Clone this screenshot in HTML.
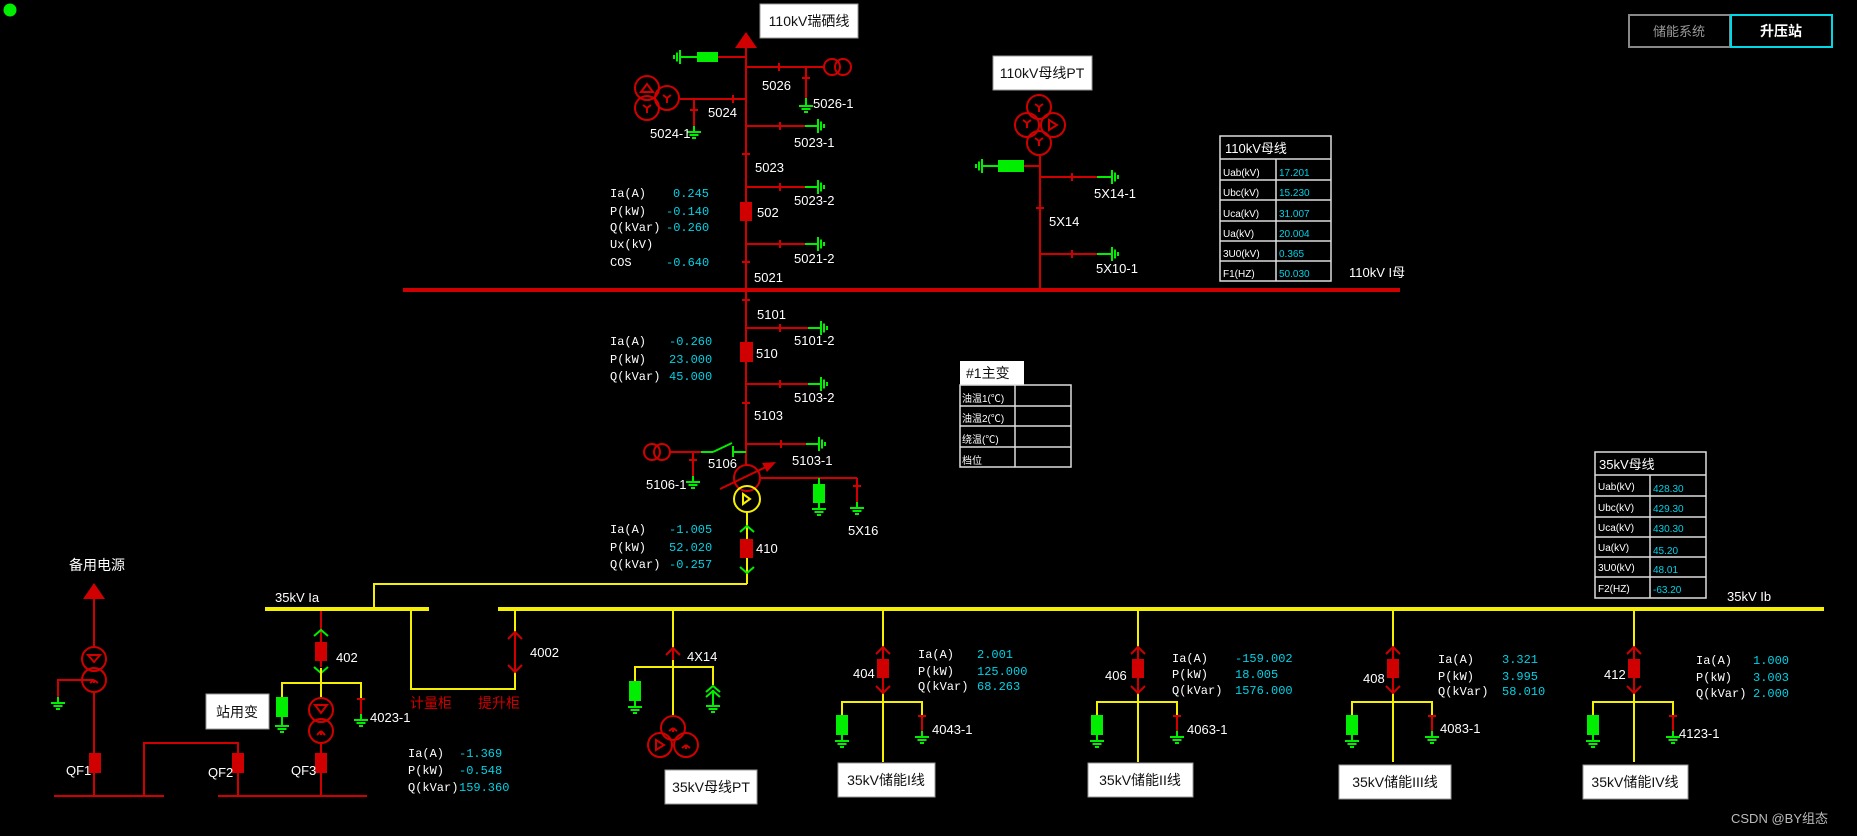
<!DOCTYPE html>
<html><head><meta charset="utf-8">
<style>
html,body{margin:0;padding:0;background:#000;overflow:hidden}
svg{display:block}
text{font-family:"Liberation Sans","Noto Sans CJK SC",sans-serif;font-size:13px;fill:#fff}
.c{fill:#00d2e6}
text.m{font-family:"Liberation Mono","Noto Sans CJK SC",monospace;font-size:12px}
.t{font-size:10px}
.b{fill:#111;font-size:14px}
.r{stroke:#d00000;stroke-width:2;fill:none}
.y{stroke:#f5f000;stroke-width:2;fill:none}
.g{stroke:#00ee00;stroke-width:2;fill:none}
</style></head><body>
<svg width="1857" height="836" xmlns="http://www.w3.org/2000/svg">
<defs>
<g id="gnd"><path d="M0,0v6M-7,6h14M-4.5,9h9M-2,12h4" stroke="#00ee00" stroke-width="2" fill="none"/></g>
<g id="tk"><path d="M-4,0h8" stroke="#d00000" stroke-width="2"/></g>
<g id="tkv"><path d="M0,-4v8" stroke="#d00000" stroke-width="2"/></g>
</defs>
<rect width="1857" height="836" fill="#000"/>
<circle cx="10" cy="10" r="6.5" fill="#00ee00"/>

<rect x="1629" y="15" width="101" height="32" fill="none" stroke="#888" stroke-width="2"/>
<text x="1679" y="36" text-anchor="middle" style="fill:#999;font-size:13px">储能系统</text>
<rect x="1731" y="15" width="101" height="32" fill="none" stroke="#00d8e8" stroke-width="2"/>
<text x="1781" y="36" text-anchor="middle" style="font-size:14px;font-weight:bold">升压站</text>

<rect x="760" y="4" width="98" height="34" fill="#fff" stroke="#999"/>
<text x="809" y="26" text-anchor="middle" class="b">110kV瑞硒线</text>
<polygon points="746,32 735,48 757,48" fill="#d00000"/>
<line x1="746" y1="48" x2="746" y2="466" class="r"/>
<line x1="746" y1="57" x2="718" y2="57" class="r"/>
<rect x="697" y="52" width="21" height="10" fill="#00ee00"/>
<line x1="697" y1="57" x2="686" y2="57" class="g"/>
<use href="#gnd" transform="translate(686,57) rotate(90)"/>
<line x1="746" y1="67" x2="824" y2="67" class="r"/>
<use href="#tkv" x="779" y="67"/>
<circle cx="832" cy="67" r="8" class="r"/><circle cx="843" cy="67" r="8" class="r"/>
<line x1="806" y1="67" x2="806" y2="98" class="r"/><use href="#tk" x="806" y="78"/>
<line x1="806" y1="98" x2="806" y2="102" class="g"/><use href="#gnd" x="806" y="100"/>
<text x="762" y="90">5026</text><text x="813" y="108">5026-1</text>
<line x1="746" y1="99" x2="680" y2="99" class="r"/>
<use href="#tkv" x="733" y="99"/>
<circle cx="647" cy="88" r="12" class="r"/><circle cx="667" cy="98" r="12" class="r"/><circle cx="647" cy="108" r="12" class="r"/>
<path d="M641,92l6,-8l6,8z" class="r" stroke-width="1.2"/>
<path d="M667,98v5M667,98l-4,-3M667,98l4,-3M647,108v5M647,108l-4,-3M647,108l4,-3" class="r" stroke-width="1.2"/>
<line x1="694" y1="99" x2="694" y2="126" class="r"/><use href="#tk" x="694" y="110"/>
<use href="#gnd" x="694" y="126"/>
<text x="708" y="117">5024</text><text x="650" y="138">5024-1</text>
<line x1="746" y1="126" x2="805" y2="126" class="r"/><use href="#tkv" x="780" y="126"/><line x1="805" y1="126" x2="812" y2="126" class="g"/><use href="#gnd" transform="translate(812,126) rotate(-90)"/>
<line x1="746" y1="187" x2="805" y2="187" class="r"/><use href="#tkv" x="780" y="187"/><line x1="805" y1="187" x2="812" y2="187" class="g"/><use href="#gnd" transform="translate(812,187) rotate(-90)"/>
<line x1="746" y1="244" x2="805" y2="244" class="r"/><use href="#tkv" x="780" y="244"/><line x1="805" y1="244" x2="812" y2="244" class="g"/><use href="#gnd" transform="translate(812,244) rotate(-90)"/>
<text x="794" y="147">5023-1</text><text x="794" y="205">5023-2</text><text x="794" y="263">5021-2</text>
<use href="#tk" x="746" y="154"/><text x="755" y="172">5023</text>
<rect x="740" y="202" width="12" height="19" fill="#d00000"/><text x="757" y="217">502</text>
<use href="#tk" x="746" y="262"/><text x="754" y="282">5021</text>
<text x="610" y="197" class="m">Ia(A)</text><text x="673" y="197" class="m c">0.245</text>
<text x="610" y="215" class="m">P(kW)</text><text x="666" y="215" class="m c">-0.140</text>
<text x="610" y="231" class="m">Q(kVar)</text><text x="666" y="231" class="m c">-0.260</text>
<text x="610" y="248" class="m">Ux(kV)</text>
<text x="610" y="266" class="m">COS</text><text x="666" y="266" class="m c">-0.640</text>
<rect x="403" y="288" width="997" height="4" fill="#d00000"/>
<text x="1349" y="277">110kV I母</text>

<rect x="993" y="56" width="99" height="34" fill="#fff" stroke="#999"/>
<text x="1042" y="78" text-anchor="middle" class="b">110kV母线PT</text>
<circle cx="1039" cy="107" r="12" class="r"/><circle cx="1027" cy="125" r="12" class="r"/><circle cx="1053" cy="125" r="12" class="r"/><circle cx="1039" cy="143" r="12" class="r"/>
<path d="M1039,107v5M1039,107l-4,-3M1039,107l4,-3M1027,123v5M1027,123l-4,-3M1027,123l4,-3M1039,141v5M1039,141l-4,-3M1039,141l4,-3M1049,120l8,5l-8,5z" class="r" stroke-width="1.2"/>
<line x1="1040" y1="155" x2="1040" y2="290" class="r"/>
<line x1="1040" y1="166" x2="1024" y2="166" class="r"/>
<rect x="998" y="160" width="26" height="12" fill="#00ee00"/>
<line x1="998" y1="166" x2="988" y2="166" class="g"/><use href="#gnd" transform="translate(988,166) rotate(90)"/>
<line x1="1040" y1="177" x2="1097" y2="177" class="r"/><use href="#tkv" x="1072" y="177"/><line x1="1097" y1="177" x2="1106" y2="177" class="g"/><use href="#gnd" transform="translate(1106,177) rotate(-90)"/>
<use href="#tk" x="1040" y="208"/>
<line x1="1040" y1="254" x2="1097" y2="254" class="r"/><use href="#tkv" x="1072" y="254"/><line x1="1097" y1="254" x2="1106" y2="254" class="g"/><use href="#gnd" transform="translate(1106,254) rotate(-90)"/>
<text x="1094" y="198">5X14-1</text><text x="1049" y="226">5X14</text><text x="1096" y="273">5X10-1</text>

<g stroke="#ddd" stroke-width="1.5" fill="none">
<rect x="1220" y="136" width="111" height="145"/>
<path d="M1220,159h111M1220,180h111M1220,200h111M1220,221h111M1220,241h111M1220,261h111M1276,159v122"/>
</g>
<text x="1225" y="153">110kV母线</text>
<text x="1223" y="176" class="t">Uab(kV)</text><text x="1279" y="176" class="t c">17.201</text>
<text x="1223" y="196" class="t">Ubc(kV)</text><text x="1279" y="196" class="t c">15.230</text>
<text x="1223" y="217" class="t">Uca(kV)</text><text x="1279" y="217" class="t c">31.007</text>
<text x="1223" y="237" class="t">Ua(kV)</text><text x="1279" y="237" class="t c">20.004</text>
<text x="1223" y="257" class="t">3U0(kV)</text><text x="1279" y="257" class="t c">0.365</text>
<text x="1223" y="277" class="t">F1(HZ)</text><text x="1279" y="277" class="t c">50.030</text>

<use href="#tk" x="746" y="300"/><text x="757" y="319">5101</text>
<line x1="746" y1="328" x2="808" y2="328" class="r"/><use href="#tkv" x="780" y="328"/><line x1="808" y1="328" x2="815" y2="328" class="g"/><use href="#gnd" transform="translate(815,328) rotate(-90)"/>
<text x="794" y="345">5101-2</text>
<rect x="740" y="342" width="13" height="20" fill="#d00000"/><text x="756" y="358">510</text>
<text x="610" y="345" class="m">Ia(A)</text><text x="669" y="345" class="m c">-0.260</text>
<text x="610" y="363" class="m">P(kW)</text><text x="669" y="363" class="m c">23.000</text>
<text x="610" y="380" class="m">Q(kVar)</text><text x="669" y="380" class="m c">45.000</text>
<line x1="746" y1="384" x2="808" y2="384" class="r"/><use href="#tkv" x="780" y="384"/><line x1="808" y1="384" x2="815" y2="384" class="g"/><use href="#gnd" transform="translate(815,384) rotate(-90)"/>
<text x="794" y="402">5103-2</text>
<use href="#tk" x="746" y="403"/><text x="754" y="420">5103</text>
<line x1="746" y1="444" x2="806" y2="444" class="r"/><use href="#tkv" x="781" y="444"/><line x1="806" y1="444" x2="813" y2="444" class="g"/><use href="#gnd" transform="translate(813,444) rotate(-90)"/>
<text x="792" y="465">5103-1</text>
<circle cx="652" cy="452" r="8" class="r"/><circle cx="662" cy="452" r="8" class="r"/>
<line x1="670" y1="452" x2="701" y2="452" class="r"/>
<line x1="701" y1="452" x2="713" y2="452" class="g"/><line x1="713" y1="452" x2="732" y2="443" class="g"/>
<line x1="733" y1="446" x2="733" y2="457" class="g"/><line x1="733" y1="452" x2="746" y2="452" class="g"/>
<line x1="693" y1="452" x2="693" y2="478" class="r"/><use href="#tk" x="693" y="460"/><use href="#gnd" x="693" y="476"/>
<text x="708" y="468">5106</text><text x="646" y="489">5106-1</text>
<circle cx="747" cy="478" r="13" class="r"/>
<circle cx="747" cy="499" r="13" class="y"/>
<path d="M743,494l7,5l-7,5z" class="y" stroke-width="1.5"/>
<line x1="720" y1="489" x2="770" y2="465" class="r"/>
<polygon points="776,462 762,463 767,472" fill="#d00000"/>
<line x1="760" y1="478" x2="857" y2="478" class="r"/>
<line x1="819" y1="478" x2="819" y2="484" class="g"/>
<rect x="813" y="484" width="12" height="19" fill="#00ee00"/>
<use href="#gnd" x="819" y="503"/>
<line x1="857" y1="478" x2="857" y2="502" class="r"/><use href="#tk" x="857" y="486"/>
<use href="#gnd" x="857" y="502"/>
<text x="848" y="535">5X16</text>
<line x1="747" y1="512" x2="747" y2="584" class="y"/>
<path d="M740,532l7,-6l7,6" class="g"/>
<rect x="740" y="539" width="13" height="19" fill="#d00000"/>
<path d="M740,567l7,6l7,-6" class="g"/>
<text x="756" y="553">410</text>
<text x="610" y="533" class="m">Ia(A)</text><text x="669" y="533" class="m c">-1.005</text>
<text x="610" y="551" class="m">P(kW)</text><text x="669" y="551" class="m c">52.020</text>
<text x="610" y="568" class="m">Q(kVar)</text><text x="669" y="568" class="m c">-0.257</text>
<polyline points="747,584 374,584 374,609" class="y"/>

<rect x="265" y="607" width="164" height="4" fill="#f5f000"/>
<text x="275" y="602">35kV Ia</text>
<rect x="498" y="607" width="1326" height="4" fill="#f5f000"/>
<text x="1727" y="601">35kV Ib</text>
<polyline points="411,611 411,689 515,689 515,611" class="y"/>
<line x1="515" y1="632" x2="515" y2="672" class="r"/>
<path d="M508,639l7,-7l7,7M508,665l7,7l7,-7" class="r"/>
<text x="530" y="657">4002</text>
<text x="410" y="708" style="fill:#d00000;font-size:14px">计量柜</text>
<text x="478" y="708" style="fill:#d00000;font-size:14px">提升柜</text>

<line x1="321" y1="611" x2="321" y2="667" class="r"/>
<path d="M314,636l7,-6l7,6" class="g"/>
<rect x="315" y="642" width="12" height="19" fill="#d00000"/>
<path d="M314,667l7,6l7,-6" class="g"/>
<text x="336" y="662">402</text>
<line x1="321" y1="668" x2="321" y2="698" class="y"/>
<polyline points="282,697 282,683 361,683 361,699" class="y"/>
<rect x="276" y="697" width="12" height="20" fill="#00ee00"/>
<line x1="282" y1="717" x2="282" y2="722" class="g"/><use href="#gnd" x="282" y="720"/>
<circle cx="321" cy="710" r="12" class="r"/><circle cx="321" cy="731" r="12" class="r"/>
<path d="M315,705l6,8l6,-8z M321,731v4M321,731l-4,4M321,731l4,4" class="r" stroke-width="1.2"/>
<line x1="361" y1="699" x2="361" y2="716" class="r"/><use href="#tk" x="361" y="699"/><use href="#gnd" x="361" y="714"/>
<text x="370" y="722">4023-1</text>
<line x1="321" y1="743" x2="321" y2="796" class="r"/>
<rect x="315" y="753" width="12" height="20" fill="#d00000"/><text x="291" y="775">QF3</text>
<rect x="206" y="694" width="63" height="35" fill="#fff" stroke="#999"/>
<text x="237" y="717" text-anchor="middle" class="b">站用变</text>
<line x1="218" y1="796" x2="367" y2="796" class="r"/>
<polyline points="144,796 144,743 238,743 238,796" class="r"/>
<rect x="232" y="753" width="12" height="20" fill="#d00000"/><text x="208" y="777">QF2</text>
<line x1="54" y1="796" x2="164" y2="796" class="r"/>

<text x="69" y="570" style="font-size:14px">备用电源</text>
<polygon points="94,583 83,599 105,599" fill="#d00000"/>
<line x1="94" y1="599" x2="94" y2="647" class="r"/>
<circle cx="94" cy="659" r="12" class="r"/><circle cx="94" cy="680" r="12" class="r"/>
<path d="M88,655h12l-6,7z M94,680v3M94,680l-4,3M94,680l4,3" class="r" stroke-width="1.2"/>
<polyline points="94,680 58,680 58,697" class="r"/><use href="#gnd" x="58" y="697"/>
<line x1="94" y1="692" x2="94" y2="796" class="r"/>
<rect x="89" y="753" width="12" height="20" fill="#d00000"/><text x="66" y="775">QF1</text>

<line x1="673" y1="611" x2="673" y2="716" class="y"/>
<line x1="673" y1="648" x2="673" y2="660" class="r"/>
<path d="M666,655l7,-7l7,7" class="r"/>
<text x="687" y="661">4X14</text>
<polyline points="635,681 635,667 713,667 713,685" class="y"/>
<rect x="629" y="681" width="12" height="20" fill="#00ee00"/>
<use href="#gnd" x="635" y="701"/>
<path d="M706,692l7,-6l7,6M706,697l7,-6l7,6M713,690v14" class="g"/>
<use href="#gnd" x="713" y="700"/>
<circle cx="673" cy="728" r="12" class="r"/><circle cx="660" cy="745" r="12" class="r"/><circle cx="686" cy="745" r="12" class="r"/>
<path d="M673,728v4M673,728l-4,3M673,728l4,3M686,745v4M686,745l-4,3M686,745l4,3M656,740l8,5l-8,5z" class="r" stroke-width="1.2"/>
<rect x="665" y="770" width="92" height="34" fill="#fff" stroke="#999"/>
<text x="711" y="792" text-anchor="middle" class="b">35kV母线PT</text>

<g id="f404">
<line x1="883" y1="611" x2="883" y2="762" class="y"/>
<line x1="883" y1="648" x2="883" y2="692" class="r"/>
<path d="M876,654l7,-7l7,7M876,686l7,7l7,-7" class="r"/>
<rect x="877" y="659" width="12" height="19" fill="#d00000"/>
<polyline points="842,715 842,702 922,702 922,716" class="y"/>
<rect x="836" y="715" width="12" height="20" fill="#00ee00"/><use href="#gnd" x="842" y="735"/>
<line x1="922" y1="716" x2="922" y2="732" class="r"/><use href="#tk" x="922" y="716"/><use href="#gnd" x="922" y="731"/>
</g>
<use href="#f404" x="255"/>
<use href="#f404" x="510"/>
<use href="#f404" x="751"/>
<text x="853" y="678">404</text><text x="1105" y="680">406</text><text x="1363" y="683">408</text><text x="1604" y="679">412</text>
<text x="932" y="734">4043-1</text><text x="1187" y="734">4063-1</text><text x="1440" y="733">4083-1</text><text x="1679" y="738">4123-1</text>
<rect x="838" y="763" width="97" height="34" fill="#fff" stroke="#999"/><text x="886" y="785" text-anchor="middle" class="b">35kV储能I线</text>
<rect x="1088" y="763" width="105" height="34" fill="#fff" stroke="#999"/><text x="1140" y="785" text-anchor="middle" class="b">35kV储能II线</text>
<rect x="1339" y="765" width="112" height="34" fill="#fff" stroke="#999"/><text x="1395" y="787" text-anchor="middle" class="b">35kV储能III线</text>
<rect x="1583" y="765" width="105" height="34" fill="#fff" stroke="#999"/><text x="1635" y="787" text-anchor="middle" class="b">35kV储能IV线</text>

<text x="918" y="658" class="m">Ia(A)</text><text x="977" y="658" class="m c">2.001</text>
<text x="918" y="675" class="m">P(kW)</text><text x="977" y="675" class="m c">125.000</text>
<text x="918" y="690" class="m">Q(kVar)</text><text x="977" y="690" class="m c">68.263</text>
<text x="1172" y="662" class="m">Ia(A)</text><text x="1235" y="662" class="m c">-159.002</text>
<text x="1172" y="678" class="m">P(kW)</text><text x="1235" y="678" class="m c">18.005</text>
<text x="1172" y="694" class="m">Q(kVar)</text><text x="1235" y="694" class="m c">1576.000</text>
<text x="1438" y="663" class="m">Ia(A)</text><text x="1502" y="663" class="m c">3.321</text>
<text x="1438" y="680" class="m">P(kW)</text><text x="1502" y="680" class="m c">3.995</text>
<text x="1438" y="695" class="m">Q(kVar)</text><text x="1502" y="695" class="m c">58.010</text>
<text x="1696" y="664" class="m">Ia(A)</text><text x="1753" y="664" class="m c">1.000</text>
<text x="1696" y="681" class="m">P(kW)</text><text x="1753" y="681" class="m c">3.003</text>
<text x="1696" y="697" class="m">Q(kVar)</text><text x="1753" y="697" class="m c">2.000</text>
<text x="408" y="757" class="m">Ia(A)</text><text x="459" y="757" class="m c">-1.369</text>
<text x="408" y="774" class="m">P(kW)</text><text x="459" y="774" class="m c">-0.548</text>
<text x="408" y="791" class="m">Q(kVar)</text><text x="459" y="791" class="m c">159.360</text>

<rect x="960" y="361" width="64" height="24" fill="#fff"/>
<text x="966" y="378" class="b">#1主变</text>
<g stroke="#ddd" stroke-width="1.5" fill="none">
<rect x="960" y="385" width="111" height="82"/>
<path d="M960,406h111M960,426h111M960,447h111M1015,385v82"/>
</g>
<text x="962" y="402" class="t">油温1(℃)</text>
<text x="962" y="422" class="t">油温2(℃)</text>
<text x="962" y="443" class="t">绕温(℃)</text>
<text x="962" y="464" class="t">档位</text>

<g stroke="#ddd" stroke-width="1.5" fill="none">
<rect x="1595" y="452" width="111" height="146"/>
<path d="M1595,475h111M1595,496h111M1595,517h111M1595,537h111M1595,557h111M1595,577h111M1650,475v123"/>
</g>
<text x="1599" y="469">35kV母线</text>
<text x="1598" y="490" class="t">Uab(kV)</text><text x="1653" y="492" class="t c">428.30</text>
<text x="1598" y="511" class="t">Ubc(kV)</text><text x="1653" y="512" class="t c">429.30</text>
<text x="1598" y="531" class="t">Uca(kV)</text><text x="1653" y="532" class="t c">430.30</text>
<text x="1598" y="551" class="t">Ua(kV)</text><text x="1653" y="554" class="t c">45.20</text>
<text x="1598" y="571" class="t">3U0(kV)</text><text x="1653" y="573" class="t c">48.01</text>
<text x="1598" y="592" class="t">F2(HZ)</text><text x="1653" y="593" class="t c">-63.20</text>

<text x="1731" y="823" style="fill:#bbb;font-size:13px">CSDN @BY组态</text>
</svg>
</body></html>
